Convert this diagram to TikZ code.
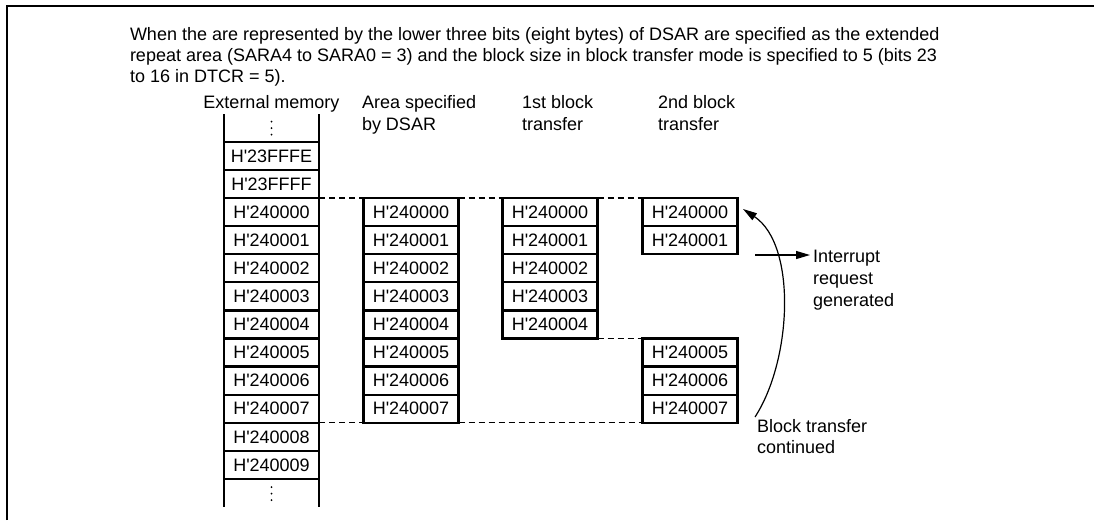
\documentclass[tikz,border=0pt]{standalone}
\usepackage{fontspec}
\setmainfont{Liberation Sans}[Ligatures=TeXOff]
\usetikzlibrary{arrows.meta}
\begin{document}
\begin{tikzpicture}[x=1pt,y=-1pt,
  cell/.style={draw, line width=2.3pt, minimum width=95pt, minimum height=28.1pt,
    inner sep=0pt, outer sep=0pt, font=\fontsize{18}{21}\selectfont},
  lbl/.style={inner sep=0pt, outer sep=0pt, align=left, font=\fontsize{18}{22}\selectfont},
  dashln/.style={line width=1.2pt, dash pattern=on 6pt off 4pt},
  arr/.style={line width=1.2pt, -{Triangle[length=14pt,width=8pt]}},
  outer/.style={line width=2.6pt},
  frame/.style={line width=2.5pt, line join=miter}]
\useasboundingbox (0,0) rectangle (1094,520);
\draw[frame] (7,520) -- (7,6) -- (1094,6);

% description
\node[lbl, anchor=north west, font=\fontsize{18}{21}\selectfont] (desc) at (130,27)
  {When the are represented by the lower three bits (eight bytes) of DSAR are specified as the extended\\
   repeat area (SARA4 to SARA0 = 3) and the block size in block transfer mode is specified to 5 (bits 23\\
   to 16 in DTCR = 5).};

% headers
\node[lbl, anchor=base] (hext) at (271.5,108.5) {External memory};
\node[lbl, anchor=north west] (hdsar) at (362,95.4) {Area specified\\by DSAR};
\node[lbl, anchor=north west] (hfst) at (522,95.4) {1st block\\transfer};
\node[lbl, anchor=north west] (hsnd) at (658,95.4) {2nd block\\transfer};

% external memory column
\node[cell] (extFE) at (271.5,155.85) {H'23FFFE};
\node[cell] (extFF) at (271.5,183.95) {H'23FFFF};
\foreach \i in {0,...,9}
  \node[cell] (ext\i) at (271.5,{198+28.1*(\i+0.5)}) {H'24000\i};
\draw[outer] (224,114) -- (224,507);
\draw[outer] (319,114) -- (319,507);
\foreach \y in {121.5,128,134.5} \fill (271.5,\y) circle (1pt);
\foreach \y in {487,493.5,500} \fill (271.5,\y) circle (1pt);

% area specified by DSAR
\foreach \i in {0,...,7}
  \node[cell] (dsar\i) at (411,{198+28.1*(\i+0.5)}) {H'24000\i};

% 1st block transfer
\foreach \i in {0,...,4}
  \node[cell] (fst\i) at (550,{198+28.1*(\i+0.5)}) {H'24000\i};

% 2nd block transfer
\foreach \i in {0,1,5,6,7}
  \node[cell] (snd\i) at (690,{198+28.1*(\i+0.5)}) {H'24000\i};

% dashed guide lines
\draw[dashln] (ext0.north east) -- (dsar0.north west);
\draw[dashln] (dsar0.north east) -- (fst0.north west);
\draw[dashln] (fst0.north east) -- (snd0.north west);
\draw[dashln] (fst4.south east) -- (snd5.north west);
\draw[dashln] (ext7.south east) -- (dsar7.south west);
\draw[dashln] (dsar7.south east) -- (snd7.south west);

% right-hand labels
\node[lbl, anchor=north west] (irq) at (813,250.1) {Interrupt\\request\\generated};
\node[lbl, anchor=north west, font=\fontsize{18}{21.5}\selectfont] (blk) at (757,419) {Block transfer\\continued};

% arrows
\coordinate (irqs) at (755,255);
\coordinate (irqe) at ([xshift=-3pt]irq.north west);
\draw[arr] (irqs) -- (irqe |- irqs);
\coordinate (cs) at (755,417);
\coordinate (ct) at (743,209);
\draw[arr] (cs) .. controls (792,360) and (797,245) .. (ct);
\end{tikzpicture}
\end{document}
